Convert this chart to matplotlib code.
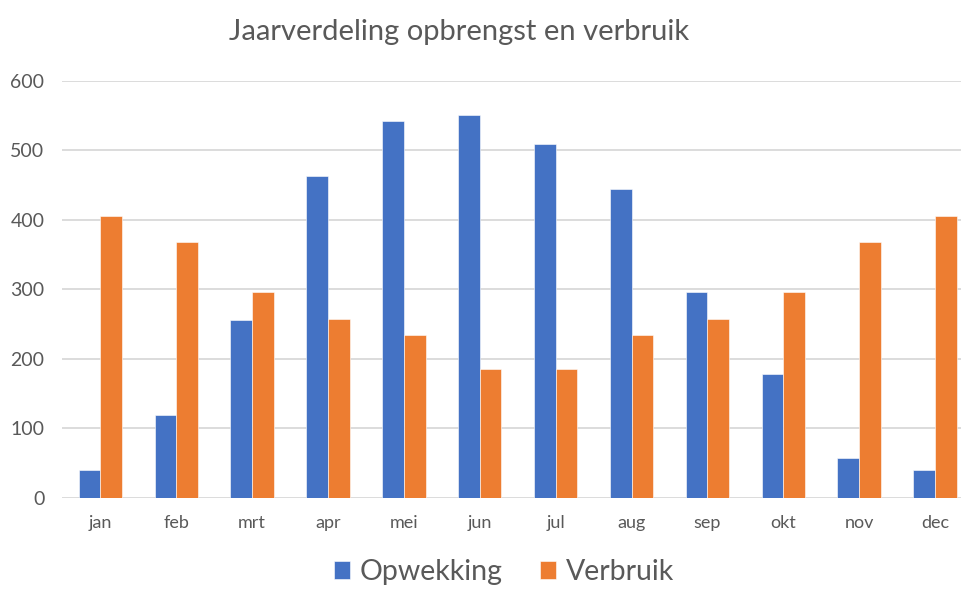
import matplotlib
matplotlib.use("Agg")
from matplotlib import pyplot as plt
import numpy as np

months = ['jan', 'feb', 'mrt', 'apr', 'mei', 'jun', 'jul', 'aug', 'sep', 'okt', 'nov', 'dec']
opwekking = [40, 120, 256, 463, 542, 550, 509, 445, 296, 179, 58, 40]
verbruik = [406, 368, 296, 258, 235, 185, 185, 235, 258, 296, 368, 406]
y_ticks = [0, 100, 200, 300, 400, 500, 600]

plt.rcParams['font.family'] = ['Lato', 'DejaVu Sans']
text_color = '#595959'

fig = plt.figure(figsize=(9.62, 5.9), dpi=100)
# plot area runs a bit past the right edge, like the cropped original
ax = fig.add_axes([62.4 / 962, 92 / 590, (973 - 62.4) / 962, 417.3 / 590])

x = np.arange(len(months))
w = 1 / 3.5  # excel gap width 150%
ax.bar(x - w / 2, opwekking, w, color='#4472C4', edgecolor='white', linewidth=0.4, label='Opwekking', zorder=3)
ax.bar(x + w / 2, verbruik, w, color='#ED7D31', edgecolor='white', linewidth=0.4, label='Verbruik', zorder=3)

ax.set_xlim(-0.5, len(months) - 0.5)
ax.set_ylim(0, 600)
ax.set_yticks(y_ticks)
ax.set_xticks(x)
ax.set_xticklabels(months)
ax.grid(axis='y', color='#d9d9d9', linewidth=1.3, zorder=0)
for s in ax.spines.values():
    s.set_visible(False)
ax.tick_params(axis='y', length=0, pad=13, labelsize=14, labelcolor=text_color)
ax.tick_params(axis='x', length=0, pad=12, labelsize=13, labelcolor=text_color)

fig.text(459 / 962, 1 - 32 / 590, 'Jaarverdeling opbrengst en verbruik', ha='center', va='center',
         fontsize=21, color=text_color)

# legend sits at the very bottom, kept just inside the figure
leg = fig.legend(loc='lower center', bbox_to_anchor=(504 / 962, -0.018), ncol=2, frameon=False,
                 fontsize=20.5, handlelength=0.57, handleheight=0.57, handletextpad=0.35,
                 columnspacing=1.3, labelcolor=text_color, borderpad=0.05)

fig.savefig('out.png', dpi=100)
